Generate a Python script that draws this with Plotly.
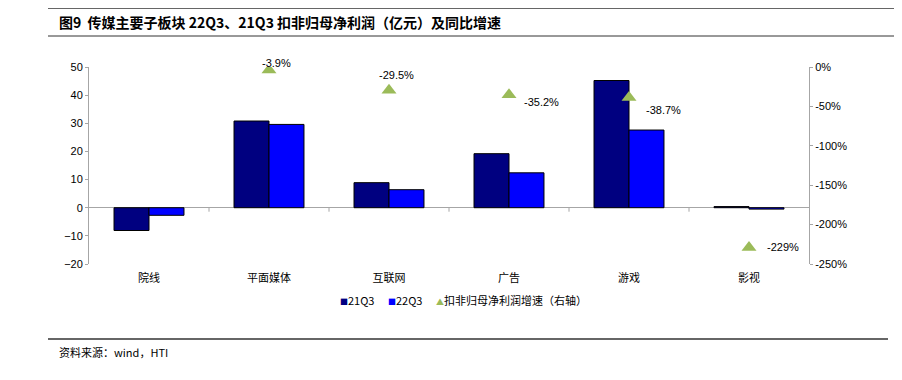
import plotly.graph_objects as go

categories = ["院线", "平面媒体", "互联网", "广告", "游戏", "影视"]
q3_2021 = [-8.1, 30.8, 8.9, 19.2, 45.2, 0.4]
q3_2022 = [-2.7, 29.6, 6.4, 12.4, 27.6, -0.5]
growth_cats = ["平面媒体", "互联网", "广告", "游戏", "影视"]
growth = [-3.9, -29.5, -35.2, -38.7, -229.0]
growth_labels = ["-3.9%", "-29.5%", "-35.2%", "-38.7%", "-229%"]
label_offsets = [(7, 7), (7, 15), (32, -7), (34, -12), (34, 0)]
left_ticks = [-20, -10, 0, 10, 20, 30, 40, 50]
right_ticks = [0, -50, -100, -150, -200, -250]
right_tick_text = ["0%", "-50%", "-100%", "-150%", "-200%", "-250%"]
series_names = ["21Q3", "22Q3", "扣非归母净利润增速（右轴）"]

NUM_FONT = "Liberation Sans, Arial, sans-serif"
CJK_FONT = "Noto Sans CJK SC"
AXIS_GRAY = "#A6A6A6"
C21, C22, CG = "#000080", "#0000FF", "#9BBB59"

# page offset of the plotly div (browser default body margin)
OFF = 8
PL, PR, PT, PB = 89, 809, 67, 264  # plot area in page pixels
W, H = 902, 380


def px(xp):
    return (xp - PL) / (PR - PL)


def py(yp):
    return (PB - yp) / (PB - PT)


fig = go.Figure()
fig.add_trace(go.Bar(x=categories, y=q3_2021, name=series_names[0],
                     marker=dict(color=C21, line=dict(color="black", width=1))))
fig.add_trace(go.Bar(x=categories, y=q3_2022, name=series_names[1],
                     marker=dict(color=C22, line=dict(color="black", width=1))))
fig.add_trace(go.Scatter(x=growth_cats, y=growth, yaxis="y2", mode="markers",
                         name=series_names[2],
                         marker=dict(symbol="triangle-up", size=13, color=CG)))

for c, g, t, (dx, dy) in zip(growth_cats, growth, growth_labels, label_offsets):
    fig.add_annotation(x=c, y=g, xref="x", yref="y2", text=t, showarrow=False,
                       xshift=dx, yshift=dy, font=dict(family=NUM_FONT, size=11, color="#000"))

# x-axis tick marks at category boundaries on the zero line
for i in range(len(categories) - 1):
    fig.add_shape(type="line", xref="x", yref="y", x0=i + 0.5, x1=i + 0.5,
                  ysizemode="pixel", yanchor=0, y0=0, y1=-4,
                  line=dict(color=AXIS_GRAY, width=1))

# title
fig.add_annotation(xref="paper", yref="paper", x=px(57), y=py(22), xanchor="left", yanchor="middle",
                   text="<b>图9  传媒主要子板块 22Q3、21Q3 扣非归母净利润（亿元）及同比增速</b>",
                   showarrow=False, font=dict(family=CJK_FONT, size=14, color="#000"))
# footer
fig.add_annotation(xref="paper", yref="paper", x=px(57), y=py(352), xanchor="left", yanchor="middle",
                   text="资料来源：wind，HTI", showarrow=False,
                   font=dict(family=CJK_FONT, size=11, color="#000"))
# legend (custom, compact like the original)
legend_items = [("■", C21, series_names[0], 338),
                ("■", C22, series_names[1], 386),
                ("▲", CG, series_names[2], 434)]
for sym, col, name, xpix in legend_items:
    fig.add_annotation(xref="paper", yref="paper", x=px(xpix), y=py(300), xanchor="left", yanchor="middle",
                       text=f"<span style='color:{col};font-size:8px'>{sym}</span>{name}", showarrow=False,
                       font=dict(family=CJK_FONT, size=11, color="#000"))


def hline(ypix, x0pix, x1pix, width):
    fig.add_shape(type="line", xref="paper", yref="paper",
                  x0=px(x0pix), x1=px(x1pix), y0=py(ypix), y1=py(ypix),
                  line=dict(color="#333333", width=width))


hline(8, 48, 910, 1.5)
hline(36, 48, 910, 1)
hline(339, 48, 888, 1.5)

fig.update_layout(
    width=W, height=H,
    margin=dict(l=PL - OFF, r=W + OFF - PR, t=PT - OFF, b=H + OFF - PB, autoexpand=False),
    paper_bgcolor="white", plot_bgcolor="white",
    barmode="group", bargap=0.417, bargroupgap=0,
    showlegend=False,
    xaxis=dict(showgrid=False, showline=False, ticks="", zeroline=False,
               ticklabelstandoff=6,
               tickfont=dict(family=CJK_FONT, size=11, color="#000")),
    yaxis=dict(range=[-20, 50], tickvals=left_ticks, showgrid=False,
               showline=True, linecolor=AXIS_GRAY, linewidth=1,
               ticks="outside", ticklen=3, tickcolor=AXIS_GRAY,
               zeroline=True, zerolinecolor=AXIS_GRAY, zerolinewidth=1,
               tickfont=dict(family=NUM_FONT, size=11, color="#000")),
    yaxis2=dict(range=[-250, 0], tickvals=right_ticks, ticktext=right_tick_text,
                overlaying="y", side="right", showgrid=False, zeroline=False,
                showline=True, linecolor=AXIS_GRAY, linewidth=1,
                ticks="outside", ticklen=3, tickcolor=AXIS_GRAY,
                tickfont=dict(family=NUM_FONT, size=11, color="#000")),
)

fig.write_html("out.html")
